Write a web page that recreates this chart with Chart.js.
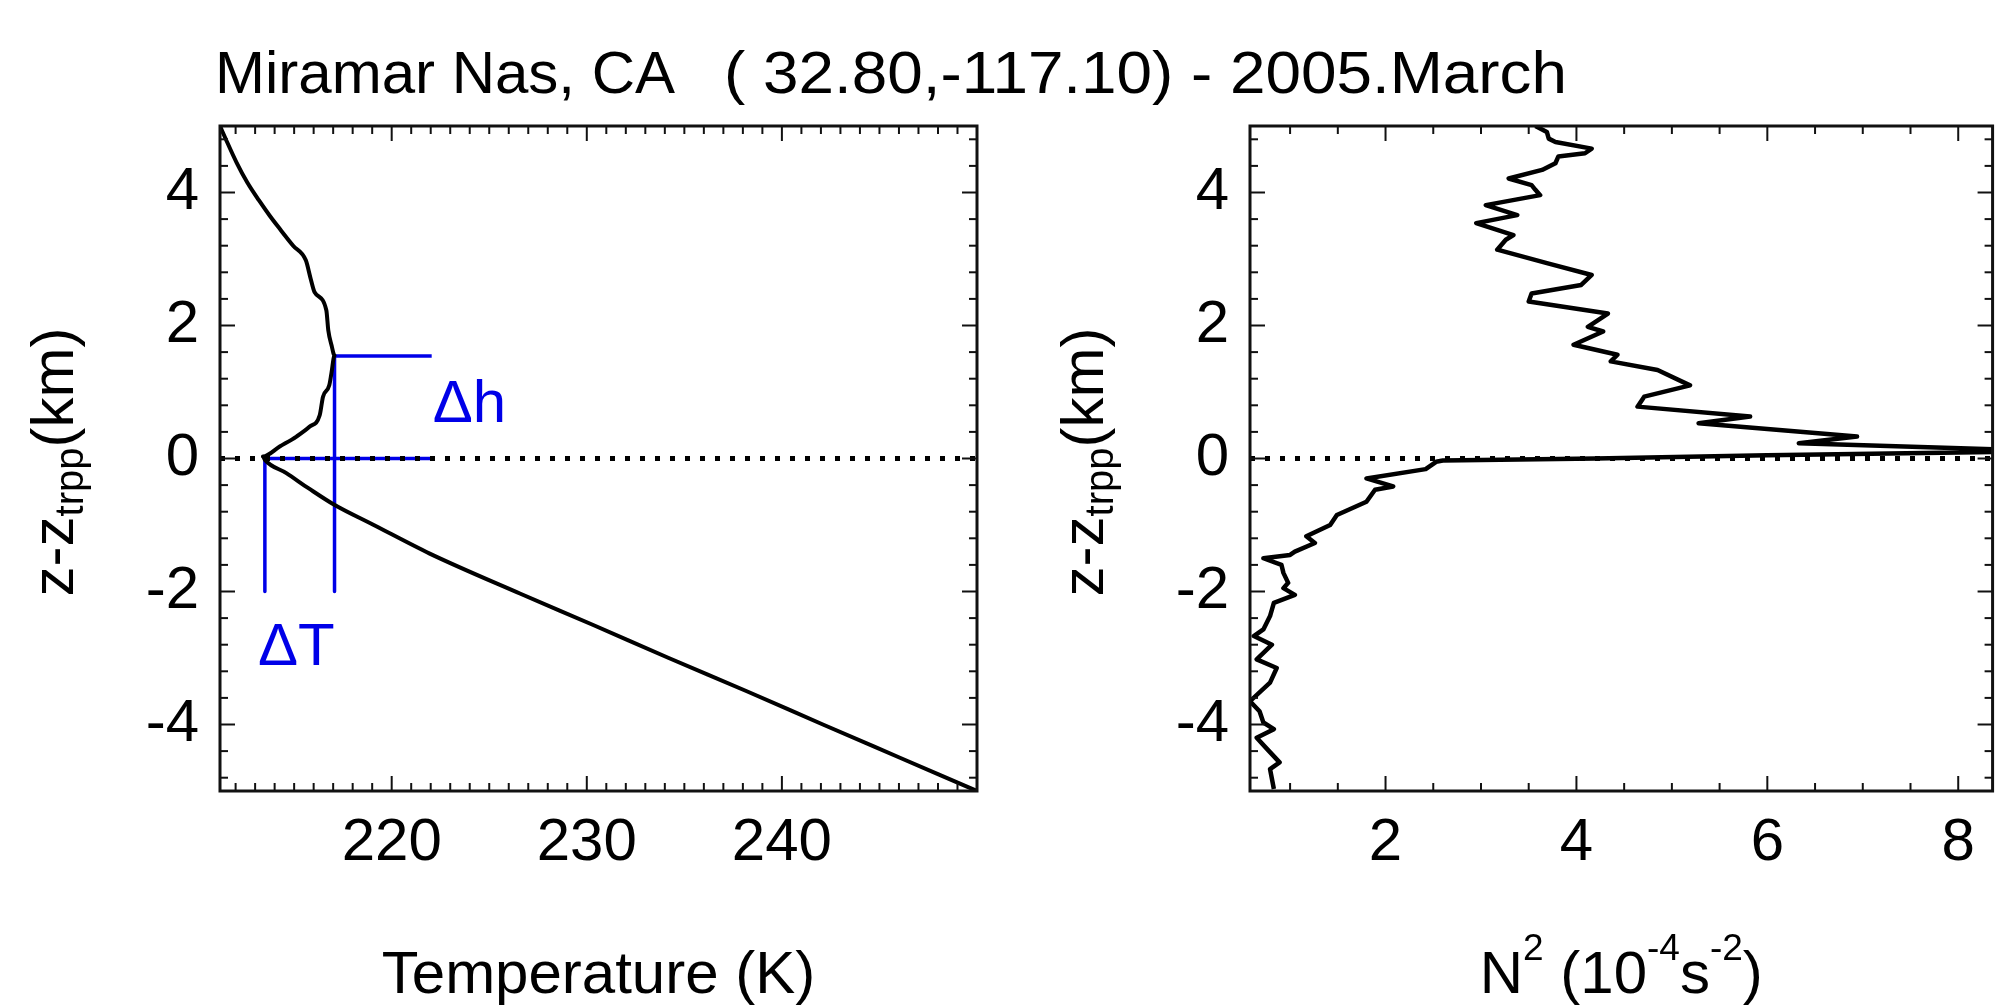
<!DOCTYPE html>
<html>
<head>
<meta charset="utf-8">
<script src="https://cdn.jsdelivr.net/npm/chart.js@4.4.1/dist/chart.umd.min.js"></script>
<style>
html,body{margin:0;padding:0;background:#fff;}
#wrap{position:relative;width:1997px;height:1006px;overflow:hidden;background:#fff;}
canvas{position:absolute;left:0;top:0;}
</style>
</head>
<body>
<div id="wrap">
  <canvas id="left" width="1997" height="1006"></canvas>
  <canvas id="right" width="1997" height="1006"></canvas>
</div>
<script>
const FONT='"Liberation Sans", Arial, Helvetica, sans-serif';
const titleStation='Miramar Nas, CA';
const titleRest='( 32.80,-117.10) - 2005.March';

// temperature profile, height relative to tropopause (km) and T (K)
const tempZ=[5.0,4.8,4.45,4.15,3.88,3.65,3.44,3.2,2.98,2.7,2.5,2.23,1.93,1.7,1.55,1.28,1.1,0.93,0.65,0.48,0.33,0.18,0.03,-0.02,-0.22,-0.45,-0.70,-1.0,-1.43,-2.03,-2.5,-3.0,-3.5,-4.0,-4.5,-5.0];
const tempK=[211.2,211.5,212.05,212.6,213.2,213.75,214.3,214.95,215.6,215.85,216.05,216.65,216.75,216.92,217.07,216.91,216.8,216.48,216.31,215.8,215.12,214.26,213.4,213.5,214.6,215.75,217.08,219.08,221.95,226.57,230.3,234.2,238.2,242.1,246.05,250.0];

// N^2 profile (1e-4 s^-2)
const n2Z=[5.0,4.91,4.81,4.76,4.66,4.59,4.54,4.44,4.34,4.21,4.11,4.04,3.96,3.81,3.66,3.54,3.36,3.29,3.14,2.93,2.76,2.61,2.48,2.36,2.18,1.98,1.91,1.71,1.56,1.46,1.33,1.10,0.93,0.78,0.63,0.53,0.33,0.23,0.11,0.05,0.0,-0.03,-0.05,-0.16,-0.30,-0.42,-0.47,-0.65,-0.85,-1.0,-1.17,-1.27,-1.40,-1.45,-1.50,-1.60,-1.72,-1.87,-1.95,-2.05,-2.17,-2.37,-2.57,-2.67,-2.80,-3.02,-3.15,-3.37,-3.65,-3.80,-3.97,-4.07,-4.20,-4.37,-4.57,-4.67,-4.82,-4.97];
const n2Val=[3.57,3.69,3.71,3.78,4.16,4.09,3.81,3.78,3.64,3.29,3.53,3.57,3.62,3.05,3.38,2.95,3.34,3.26,3.17,3.71,4.16,4.05,3.53,3.50,4.33,4.12,4.28,3.97,4.43,4.36,4.85,5.19,4.71,4.64,5.82,5.28,6.94,6.33,9.0,6.0,4.2,2.6,2.53,2.42,1.80,2.08,1.89,1.80,1.49,1.42,1.17,1.26,1.05,1.0,0.72,0.91,0.93,0.98,0.93,1.05,0.83,0.79,0.72,0.62,0.81,0.65,0.86,0.79,0.58,0.68,0.72,0.83,0.65,0.76,0.89,0.79,0.81,0.83];

const zRange=[-5,5];
const tRange=[211.2,250];
const n2Range=[0.58,8.36];
const zTicks=[-4,-2,0,2,4];
const tTicks=[220,230,240];
const n2Ticks=[2,4,6,8];

// delta-h / delta-T markers
const dhZ=1.54, dhT=[217.07,222.05];
const dtT=[213.5,217.07], dtLow=-2.0;
const BLUE='#0000e8';

const pts=(xs,ys)=>xs.map((v,i)=>({x:v,y:ys[i]}));
const seg=(x1,y1,x2,y2)=>[{x:x1,y:y1},{x:x2,y:y2}];
const zeroLine=r=>({data:seg(r[0],0,r[1],0),showLine:true,borderColor:'#000',borderWidth:5,borderDash:[5,10],pointRadius:0});
const blue=d=>({data:d,showLine:true,borderColor:BLUE,borderWidth:3.5,pointRadius:0});

function rich(ctx,parts,x,y){
  let w=0;
  parts.forEach(p=>{ctx.font=p[1]+'px '+FONT;w+=ctx.measureText(p[0]).width;});
  let cx=x-w/2;
  parts.forEach(p=>{ctx.font=p[1]+'px '+FONT;ctx.fillText(p[0],cx,y+(p[2]||0));cx+=ctx.measureText(p[0]).width;});
}

function frame(cfg){
  return {
    id:'frame',
    afterDatasetsDraw(chart){
      const {ctx,chartArea:a,scales:{x,y}}=chart;
      ctx.save();
      ctx.strokeStyle='#111';ctx.lineWidth=2;
      const ln=(x1,y1,x2,y2)=>{ctx.beginPath();ctx.moveTo(x1,y1);ctx.lineTo(x2,y2);ctx.stroke();};
      for(let v=cfg.xMinor[0];v<=cfg.xMinor[1]+1e-6;v+=cfg.xMinor[2]){
        const p=x.getPixelForValue(v);
        const L=Math.abs(v/cfg.xMajor-Math.round(v/cfg.xMajor))<1e-6?15:8;
        ln(p,a.bottom,p,a.bottom-L);ln(p,a.top,p,a.top+L);
      }
      for(let v=-4.8;v<=4.8+1e-6;v+=0.4){
        const p=y.getPixelForValue(v);
        const L=Math.abs(v/2-Math.round(v/2))<1e-6?15:8;
        ln(a.left,p,a.left+L,p);ln(a.right,p,a.right-L,p);
      }
      ctx.lineWidth=3;
      ctx.strokeRect(a.left,a.top,a.right-a.left,a.bottom-a.top);
      ctx.fillStyle='#000';ctx.textBaseline='alphabetic';
      rich(ctx,cfg.xTitle,(a.left+a.right)/2,993);
      ctx.save();
      ctx.translate(a.left-147,462);ctx.rotate(-Math.PI/2);
      rich(ctx,[['z-z',60],['trpp',40,10],['(km)',60]],0,0);
      ctx.restore();
      if(cfg.extra)cfg.extra(ctx,x,y);
      ctx.restore();
    }
  };
}

function axis(range,ticks,pad,fit){
  return {
    type:'linear',min:range[0],max:range[1],
    grid:{display:false,drawTicks:false},border:{display:false},
    ticks:{font:{family:FONT,size:60,lineHeight:1},color:'#000',padding:pad,maxRotation:0,autoSkip:false,callback:v=>String(v)},
    afterBuildTicks:s=>{s.ticks=ticks.map(v=>({value:v}));},
    afterFit:fit
  };
}

function build(id,cfg){
  return new Chart(document.getElementById(id),{
    type:'scatter',
    data:{datasets:cfg.datasets},
    options:{
      responsive:false,animation:false,
      layout:{padding:cfg.padding},
      plugins:{legend:{display:false},tooltip:{enabled:false}},
      elements:{point:{radius:0},line:{tension:0,borderJoinStyle:'round',borderCapStyle:'butt'}},
      scales:{
        x:axis(cfg.xRange,cfg.xTicks,22,s=>{s.height=215;}),
        y:axis(zRange,zTicks,21,s=>{s.width=cfg.yWidth;})
      }
    },
    plugins:[frame(cfg)]
  });
}

Chart.defaults.font.family=FONT;

build('left',{
  padding:{left:0,right:1020,top:126,bottom:0},
  yWidth:220,
  xRange:tRange,xTicks:tTicks,
  xMinor:[212,250,1],xMajor:10,
  xTitle:[['Temperature (K)',60]],
  datasets:[
    zeroLine(tRange),
    {data:pts(tempK,tempZ),showLine:true,borderColor:'#000',borderWidth:4,pointRadius:0,cubicInterpolationMode:'monotone'},
    blue(seg(dhT[0],dhZ,dhT[1],dhZ)),
    blue(seg(dtT[1],dhZ,dtT[1],dtLow)),
    blue(seg(dtT[0],0,dtT[0],dtLow)),
    blue(seg(dtT[0],0,dhT[1],0))
  ],
  extra(ctx,x,y){
    ctx.fillStyle='#000';ctx.font='60px '+FONT;ctx.textAlign='left';
    ctx.fillText(titleStation,215,93);
    // second part of the title is set a little wider in the original
    const w=ctx.measureText(titleRest).width;
    ctx.save();ctx.translate(724,93);ctx.scale(843/w,1);
    ctx.fillText(titleRest,0,0);
    ctx.restore();
    ctx.fillStyle=BLUE;
    ctx.fillText('\u0394h',x.getPixelForValue(222.1),y.getPixelForValue(0.55));
    ctx.fillText('\u0394T',x.getPixelForValue(213.15),y.getPixelForValue(-3.1));
  }
});

build('right',{
  padding:{left:0,right:2,top:126,bottom:0},
  yWidth:1250,
  xRange:n2Range,xTicks:n2Ticks,
  xMinor:[1,8,0.5],xMajor:2,
  xTitle:[['N',60],['2',37,-33],[' (10',60],['-4',37,-33],['s',60],['-2',37,-33],[')',60]],
  datasets:[
    zeroLine(n2Range),
    {data:pts(n2Val,n2Z),showLine:true,borderColor:'#000',borderWidth:4.5,pointRadius:0}
  ]
});
</script>
</body>
</html>
